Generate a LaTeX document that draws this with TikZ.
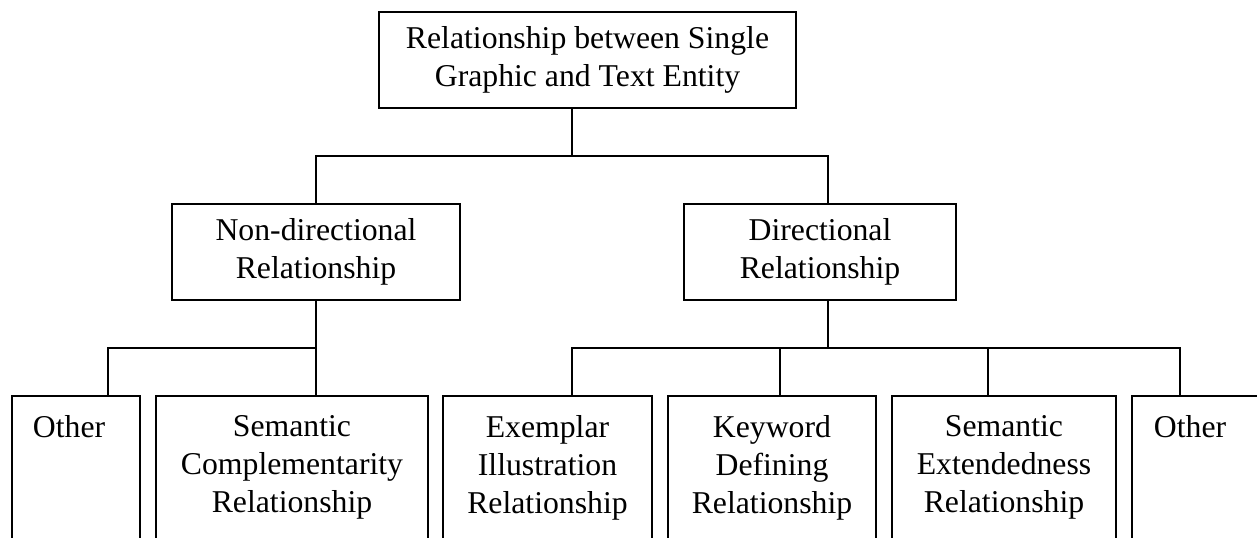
\documentclass[tikz,border=0pt]{standalone}
\usepackage{fontspec}
\setmainfont{Liberation Serif}
\usetikzlibrary{fit}
\begin{document}
\begin{tikzpicture}[x=0.75pt,y=-0.75pt, line width=1.4pt,
  box/.style={draw, rectangle, inner sep=0pt, outer sep=0pt},
  lbl/.style={font=\fontsize{23.8}{28.5}\selectfont, align=center, inner sep=0pt},
  lbll/.style={font=\fontsize{23.8}{28.5}\selectfont, align=left, inner sep=0pt}]
\useasboundingbox (0,0) rectangle (1257,538);
\clip (0,0) rectangle (1257,538);
% boxes
\node[box, fit={(379,12)(796,108)}] (root) {};
\node[box, fit={(172,204)(460,300)}] (nd) {};
\node[box, fit={(684,204)(956,300)}] (dir) {};
\node[box, fit={(12,396)(140,560)}] (oth1) {};
\node[box, fit={(156,396)(428,560)}] (scomp) {};
\node[box, fit={(443,396)(652,560)}] (exem) {};
\node[box, fit={(668,396)(876,560)}] (kw) {};
\node[box, fit={(892,396)(1116,560)}] (sext) {};
\node[box, fit={(1132,396)(1290,560)}] (oth2) {};
% labels
\node[lbl] (rootT) at (root.center) {Relationship between Single\\Graphic and Text Entity};
\node[lbl] (ndT) at (nd.center) {Non-directional\\Relationship};
\node[lbl] (dirT) at (dir.center) {Directional\\Relationship};
\node[lbll, anchor=north west] (oth1T) at (32,414.5) {Other};
\node[lbl, anchor=north] (scompT) at (scomp.north |- 0,414.5) {Semantic\\Complementarity\\Relationship};
\node[lbl, anchor=north] (exemT) at (exem.north |- 0,414.5) {Exemplar\\Illustration\\Relationship};
\node[lbl, anchor=north] (kwT) at (kw.north |- 0,414.5) {Keyword\\Defining\\Relationship};
\node[lbl, anchor=north] (sextT) at (sext.north |- 0,414.5) {Semantic\\Extendedness\\Relationship};
\node[lbll, anchor=north west] (oth2T) at (1153,414.5) {Other};
% attachment points
\coordinate (rootOut) at (572,108);
\coordinate (dirIn) at (828,204);
\coordinate (dirOut) at (828,300);
\coordinate (oth1In) at (108,396);
\coordinate (scompIn) at (316,396);
\coordinate (exemIn) at (572,396);
\coordinate (kwIn) at (780,396);
\coordinate (sextIn) at (988,396);
\coordinate (oth2In) at (1180,396);
\coordinate (busA) at (0,156);
\coordinate (busB) at (0,348);
% connectors
\draw (rootOut) -- (rootOut |- busA);
\draw (nd.north) -- (nd.north |- busA) -- (dirIn |- busA) -- (dirIn);
\draw (nd.south) -- (scompIn);
\draw (oth1In) -- (oth1In |- busB) -- (scompIn |- busB);
\draw (dirOut) -- (dirOut |- busB);
\draw (exemIn) -- (exemIn |- busB) -- (oth2In |- busB) -- (oth2In);
\draw (kwIn) -- (kwIn |- busB);
\draw (sextIn) -- (sextIn |- busB);
\end{tikzpicture}
\end{document}
